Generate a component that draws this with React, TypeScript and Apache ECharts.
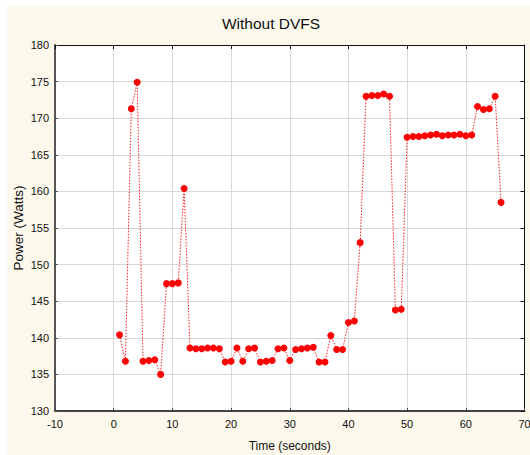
import React, { useEffect, useRef } from "react";
import * as echarts from "echarts";

const titleText = "Without DVFS";
const xName = "Time (seconds)";
const yName = "Power (Watts)";

const times: number[] = [
  1, 2, 3, 4, 5, 6, 7, 8, 9, 10, 11, 12, 13, 14, 15, 16, 17, 18, 19, 20, 21, 22,
  23, 24, 25, 26, 27, 28, 29, 30, 31, 32, 33, 34, 35, 36, 37, 38, 39, 40, 41, 42,
  43, 44, 45, 46, 47, 48, 49, 50, 51, 52, 53, 54, 55, 56, 57, 58, 59, 60, 61, 62,
  63, 64, 65, 66,
];

const power: number[] = [
  140.4, 136.8, 171.3, 174.9, 136.8, 136.9, 137.0, 135.0, 147.4, 147.4, 147.5, 160.4,
  138.6, 138.5, 138.5, 138.6, 138.6, 138.5, 136.7, 136.8, 138.6, 136.8, 138.5, 138.6,
  136.7, 136.8, 136.9, 138.5, 138.6, 136.9, 138.4, 138.5, 138.6, 138.7, 136.7, 136.7,
  140.3, 138.4, 138.4, 142.1, 142.3, 153.0, 173.0, 173.1, 173.1, 173.3, 173.0, 143.8,
  143.9, 167.4, 167.5, 167.5, 167.6, 167.7, 167.8, 167.6, 167.7, 167.7, 167.8, 167.6,
  167.7, 171.6, 171.2, 171.3, 173.0, 158.5,
];

const xMin = -10;
const xMax = 70;
const xStep = 10;
const yMin = 130;
const yMax = 180;
const yStep = 5;

const FONT = "'Liberation Sans', Arial, sans-serif";

export default function App() {
  const ref = useRef<HTMLDivElement>(null);

  useEffect(() => {
    if (!ref.current) return;
    const chart = echarts.init(ref.current, undefined, { renderer: "svg" });
    const seriesData = times.map((t, i) => [t, power[i]]);

    const hiddenAxisCommon = {
      axisLabel: { show: false },
      splitLine: { show: false },
      axisLine: { show: true, onZero: false, lineStyle: { color: "#111", width: 1 } },
      axisTick: { show: true, inside: true, length: 4, lineStyle: { color: "#111", width: 1 } },
    };

    chart.setOption({
      animation: false,
      backgroundColor: "#fdf8ec",
      textStyle: { fontFamily: FONT },
      graphic: [
        {
          type: "text",
          x: 264,
          y: 17,
          style: {
            text: titleText,
            font: `15.5px ${FONT}`,
            fill: "#111",
            textAlign: "center",
            textVerticalAlign: "middle",
          },
        },
      ],
      grid: {
        left: 48,
        top: 39,
        right: 5.5,
        bottom: 44,
        containLabel: false,
        outerBoundsMode: "none",
        show: true,
        backgroundColor: "#ffffff",
        borderWidth: 0,
      },
      xAxis: [
        {
          type: "value",
          min: xMin,
          max: xMax,
          interval: xStep,
          position: "bottom",
          name: xName,
          nameLocation: "middle",
          nameGap: 29,
          nameMoveOverlap: false,
          nameTextStyle: { fontSize: 12, color: "#111", fontFamily: FONT },
          axisLine: { show: true, onZero: false, lineStyle: { color: "#444", width: 2 } },
          axisTick: { show: true, inside: true, length: 3, lineStyle: { color: "#444", width: 1 } },
          axisLabel: { fontSize: 11, color: "#111", margin: 7, fontFamily: FONT },
          splitLine: { show: true, lineStyle: { color: "#d8d8d8", width: 1 } },
        },
        {
          type: "value",
          min: xMin,
          max: xMax,
          interval: xStep,
          position: "top",
          ...hiddenAxisCommon,
        },
      ],
      yAxis: [
        {
          type: "value",
          min: yMin,
          max: yMax,
          interval: yStep,
          position: "left",
          name: yName,
          nameLocation: "middle",
          nameGap: 30,
          nameMoveOverlap: false,
          nameRotate: 90,
          nameTextStyle: { fontSize: 13.5, color: "#111", fontFamily: FONT },
          axisLine: { show: true, onZero: false, lineStyle: { color: "#555", width: 2 } },
          axisTick: { show: true, inside: true, length: 3, lineStyle: { color: "#555", width: 1 } },
          axisLabel: { fontSize: 11, color: "#111", margin: 6, fontFamily: FONT },
          splitLine: { show: true, lineStyle: { color: "#d8d8d8", width: 1 } },
        },
        {
          type: "value",
          min: yMin,
          max: yMax,
          interval: yStep,
          position: "right",
          ...hiddenAxisCommon,
        },
      ],
      series: [
        {
          type: "line",
          xAxisIndex: 0,
          yAxisIndex: 0,
          data: seriesData,
          symbol: "circle",
          symbolSize: 7,
          showSymbol: true,
          itemStyle: { color: "#ff0000" },
          lineStyle: { color: "#ff2020", width: 1, type: [1.5, 1.5] },
          z: 3,
        },
      ],
    });
    return () => chart.dispose();
  }, []);

  return (
    <div
      ref={ref}
      style={{ position: "fixed", left: 7, top: 6, width: 523, height: 449 }}
    />
  );
}
